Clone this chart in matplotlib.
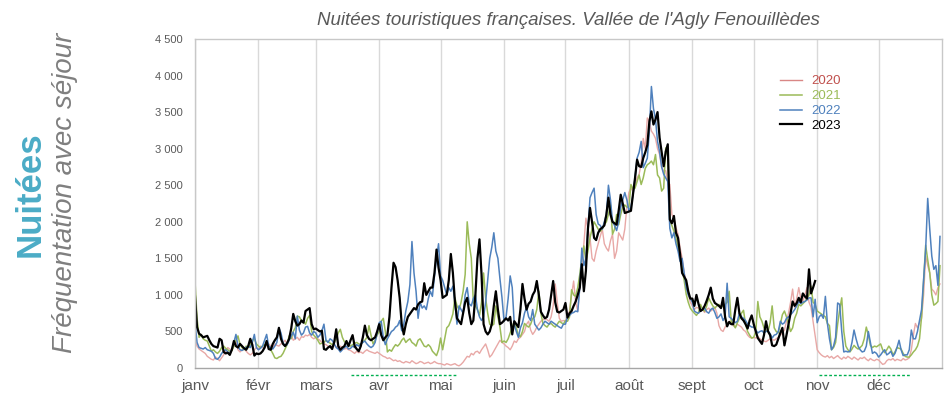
import numpy as np
import matplotlib
matplotlib.use("Agg")
from matplotlib import pyplot as plt
from matplotlib.transforms import blended_transform_factory

plt.rcParams['font.family'] = ['Liberation Sans', 'DejaVu Sans']

# Daily overnight stays, one line per month (janv .. déc)
nuitees_2020 = [
    380, 300, 260, 240, 220, 200, 160, 140, 120, 110, 150, 130, 100, 140, 180, 230, 280, 260, 240, 300, 370, 250, 220, 250, 280, 230, 200, 180, 200, 250, 280,
    260, 300, 280, 270, 320, 330, 300, 280, 330, 310, 300, 330, 350, 380, 330, 420, 460, 380, 400, 420, 380, 430, 420, 450, 440, 460, 420, 400,
    420, 400, 380, 350, 330, 320, 300, 280, 300, 320, 290, 280, 300, 280, 260, 270, 250, 240, 220, 200, 230, 210, 220, 200, 230, 250, 230, 220, 210, 200, 220,
    200, 180, 160, 150, 130, 140, 120, 100, 110, 90, 100, 80, 70, 90, 80, 70, 100, 80, 60, 70, 90, 80, 60, 70, 80, 60, 70, 90, 70, 60,
    60, 50, 40, 60, 50, 40, 50, 60, 40, 30, 50, 80, 120, 160, 150, 200, 180, 220, 230, 200, 250, 290, 330, 250, 150, 180, 230, 280, 330, 380, 350,
    330, 300, 280, 250, 300, 370, 350, 400, 420, 460, 500, 600, 640, 520, 460, 500, 560, 600, 640, 660, 680, 660, 640, 700, 850, 1150, 900, 680, 640, 650,
    640, 700, 780, 1000, 1190, 900, 780, 1100, 1370, 1700, 2050, 1900, 1780, 1500, 1460, 1600, 1700, 1800, 1900, 1700, 1640, 1600, 1740, 1830, 1500, 1600, 1850, 1800, 1750, 1900, 2200,
    2400, 2460, 2420, 2500, 2600, 2650, 2800, 3140, 3000, 3420, 3370, 3240, 3200, 3140, 3000, 2920, 2750, 2690, 2700, 2550, 2510, 2100, 2050, 1920, 1830, 1650, 1500, 1300, 1190, 1010, 900,
    850, 800, 830, 820, 780, 800, 760, 800, 820, 780, 800, 830, 750, 580, 520, 500, 560, 600, 640, 620, 580, 560, 600, 580, 560, 520, 500, 450, 420, 410,
    420, 410, 430, 400, 380, 370, 360, 380, 400, 390, 380, 400, 420, 450, 480, 520, 640, 750, 900, 1080, 830, 950, 1100, 950, 910, 1000, 1100, 900, 830, 640, 450,
    250, 210, 180, 160, 150, 170, 140, 160, 130, 150, 170, 140, 120, 150, 130, 160, 140, 120, 150, 130, 110, 140, 130, 150, 120, 100, 130, 110, 100, 120,
    110, 80, 50, 60, 100, 120, 110, 130, 100, 120, 110, 100, 130, 110, 120, 140, 250, 450, 610, 550, 620, 680, 1000, 1530, 1400, 1300, 1080, 1050, 1000, 1100, 1150,
]

nuitees_2021 = [
    1190, 680, 420, 460, 400, 380, 370, 300, 230, 250, 220, 200, 230, 280, 300, 270, 250, 230, 240, 300, 380, 440, 320, 280, 250, 300, 280, 320, 380, 400, 330,
    300, 280, 300, 320, 330, 300, 250, 200, 140, 130, 150, 160, 200, 260, 320, 440, 400, 500, 550, 710, 700, 650, 640, 600, 680, 720, 500, 450,
    420, 380, 330, 340, 350, 380, 360, 340, 320, 350, 400, 480, 530, 420, 360, 340, 320, 300, 320, 340, 350, 330, 320, 360, 380, 420, 580, 450, 330, 380, 450,
    500, 640, 680, 500, 220, 250, 230, 280, 320, 300, 330, 380, 410, 350, 380, 400, 350, 330, 300, 380, 400, 350, 300, 290, 320, 290, 230, 200, 170, 250,
    410, 250, 400, 550, 580, 650, 740, 960, 850, 800, 900, 1050, 1280, 2000, 1700, 1500, 900, 850, 800, 720, 900, 1300, 960, 750, 600, 580, 600, 850, 700, 560, 350,
    370, 350, 400, 480, 560, 640, 550, 450, 430, 500, 610, 580, 560, 600, 680, 700, 800, 1050, 750, 610, 580, 560, 600, 610, 580, 560, 600, 640, 620, 600,
    650, 640, 700, 1070, 1000, 980, 1100, 1280, 1500, 1670, 1450, 1600, 1780, 1900, 2000, 1950, 1900, 1870, 1900, 1960, 2000, 2100, 2230, 1830, 1900, 2100, 1960, 2100, 2200, 2230, 2200,
    2200, 2510, 2450, 2460, 2550, 2640, 2510, 2600, 2730, 2780, 2800, 2830, 2780, 2920, 2640, 2600, 2420, 2460, 3010, 2900, 2010, 1950, 1870, 1780, 1650, 1500, 1370, 1200, 1010, 900, 820,
    780, 750, 720, 760, 870, 800, 780, 850, 960, 900, 850, 820, 850, 870, 830, 850, 870, 900, 1050, 640, 600, 550, 620, 680, 750, 790, 600, 500, 450, 410,
    420, 500, 910, 700, 640, 550, 520, 500, 620, 850, 550, 500, 480, 600, 730, 780, 700, 600, 500, 550, 680, 750, 870, 850, 880, 910, 950, 1000, 1120, 900, 870,
    780, 760, 740, 720, 700, 610, 580, 250, 280, 350, 600, 800, 960, 500, 300, 250, 220, 260, 310, 280, 260, 280, 310, 400, 560, 450, 310, 280, 300, 290,
    310, 330, 250, 210, 250, 300, 260, 180, 220, 280, 270, 260, 200, 160, 150, 150, 180, 220, 250, 300, 400, 700, 1200, 1680, 1480, 1300, 1000, 860, 880, 910, 1400,
]

nuitees_2022 = [
    620, 350, 280, 270, 260, 280, 250, 240, 230, 200, 130, 120, 150, 200, 230, 250, 220, 200, 260, 350, 460, 300, 250, 240, 260, 280, 300, 280, 350, 460, 280,
    250, 270, 300, 380, 460, 300, 280, 260, 300, 350, 550, 480, 350, 300, 320, 380, 440, 490, 400, 710, 520, 450, 480, 560, 570, 480, 450, 500,
    480, 420, 450, 510, 600, 380, 350, 400, 380, 330, 280, 260, 220, 250, 280, 300, 260, 270, 300, 280, 320, 300, 330, 350, 370, 330, 300, 280, 300, 350, 480,
    620, 640, 420, 320, 400, 450, 500, 520, 560, 580, 650, 510, 600, 780, 910, 1140, 1730, 1300, 1050, 680, 900, 820, 850, 800, 950, 1050, 980, 1260, 1500, 1700,
    1260, 1200, 1100, 1000, 1100, 1050, 1120, 900, 600, 850, 800, 750, 1000, 1100, 880, 850, 950, 1000, 800, 700, 650, 700, 900, 1200, 1500, 1650, 1850, 1600, 1500, 1220, 960,
    640, 700, 950, 1260, 1100, 590, 500, 420, 550, 620, 750, 830, 700, 650, 800, 600, 560, 520, 550, 600, 640, 620, 600, 640, 620, 600, 580, 560, 545, 600,
    600, 700, 720, 750, 760, 780, 770, 1100, 1640, 1400, 1500, 1920, 2330, 2400, 2460, 2100, 1970, 1950, 1900, 2000, 2100, 2500, 2300, 2000, 1950, 1880, 2000, 2200, 2300, 2400, 2300,
    2150, 2200, 2370, 2600, 2870, 2950, 3100, 2740, 2800, 2870, 3240, 3850, 3550, 3400, 3100, 2960, 2750, 2650, 2600, 2550, 1910, 1780, 1850, 1700, 1600, 1460, 1500, 1300, 1100, 1000, 950,
    900, 780, 760, 750, 780, 800, 820, 770, 750, 800, 820, 760, 680, 700, 740, 650, 700, 1160, 700, 680, 650, 620, 640, 750, 700, 680, 650, 600, 580, 560,
    560, 520, 480, 500, 510, 480, 500, 510, 470, 410, 450, 460, 500, 640, 600, 620, 680, 700, 730, 760, 800, 850, 910, 880, 900, 910, 930, 960, 960, 700, 940,
    620, 700, 730, 680, 980, 610, 400, 250, 300, 420, 890, 870, 500, 220, 230, 220, 230, 350, 520, 400, 300, 250, 220, 230, 300, 500, 350, 200, 220, 200,
    150, 180, 220, 250, 180, 200, 230, 160, 200, 280, 380, 250, 170, 180, 180, 250, 520, 400, 400, 500, 650, 800, 1200, 1620, 2320, 1900, 1530, 1350, 1400, 1130, 1800,
]

# 2023 stops at the end of October
nuitees_2023 = [
    980, 560, 470, 450, 420, 430, 440, 380, 330, 300, 290, 280, 400, 380, 220, 200, 210, 180, 250, 370, 300, 280, 330, 300, 270, 250, 300, 400, 320, 170, 200,
    190, 200, 230, 280, 370, 260, 250, 330, 380, 420, 550, 400, 330, 300, 340, 400, 540, 740, 640, 580, 600, 650, 620, 780, 800, 820, 600, 530,
    540, 520, 500, 510, 260, 250, 280, 300, 260, 350, 530, 300, 250, 280, 300, 370, 300, 380, 450, 300, 260, 230, 300, 420, 580, 450, 400, 380, 400, 420, 500,
    600, 450, 380, 420, 450, 700, 1100, 1440, 1380, 1200, 960, 600, 460, 600, 700, 740, 780, 820, 800, 870, 900, 910, 1160, 1000, 1050, 1100, 1100, 1300, 1620, 1370,
    1200, 960, 980, 1000, 1200, 1560, 1300, 910, 680, 640, 600, 750, 900, 960, 750, 600, 650, 1000, 1500, 1760, 1280, 600, 500, 460, 500, 600, 850, 1050, 800, 600, 620,
    650, 680, 650, 700, 460, 640, 600, 560, 800, 1150, 950, 800, 880, 910, 1000, 1050, 1190, 1000, 770, 720, 680, 700, 800, 1000, 1190, 900, 770, 760, 780, 800,
    890, 690, 750, 780, 850, 910, 1000, 1100, 1420, 1050, 1330, 1910, 2190, 2000, 1780, 1750, 1850, 1900, 1920, 1950, 2100, 2330, 2100, 2000, 1980, 1960, 2150, 2370, 2250, 2120, 2130,
    2140, 2150, 2370, 2600, 2850, 2760, 2750, 2870, 2950, 3050, 3370, 3510, 3330, 3400, 3500, 3150, 2950, 2760, 2960, 3060, 2030, 1980, 2080, 1850, 1780, 1560, 1300, 1250, 1200, 1050, 950,
    950, 850, 1000, 880, 780, 800, 850, 920, 1000, 1100, 950, 890, 870, 850, 820, 960, 700, 570, 630, 600, 600, 800, 960, 750, 680, 650, 600, 540, 650, 720,
    600, 500, 410, 370, 330, 450, 640, 500, 450, 310, 300, 320, 400, 480, 550, 310, 450, 600, 750, 910, 850, 890, 960, 900, 1020, 980, 950, 1350, 1020, 1100, 1190,
]

months = ['janv', 'févr', 'mars', 'avr', 'mai', 'juin', 'juil', 'août', 'sept', 'oct', 'nov', 'déc']
month_days = [31, 28, 31, 30, 31, 30, 31, 31, 30, 31, 30, 31]

# confinement periods (day of year), drawn under the axis
confinement_debut = [76, 305]
confinement_fin = [128, 350]

series = [
    ('2020', nuitees_2020, '#e8a8a6', 1.0, '#c0504d'),
    ('2021', nuitees_2021, '#9bbb59', 1.1, '#9bbb59'),
    ('2022', nuitees_2022, '#4f81bd', 1.1, '#4f81bd'),
    ('2023', nuitees_2023, '#000000', 1.6, '#000000'),
]

month_start = np.concatenate([[0], np.cumsum(month_days)[:-1]])

fig = plt.figure(figsize=(9.48, 4.04), dpi=100)
ax = fig.add_axes([0.2057, 0.089, 0.7880, 0.8145])

for label, vals, col, lw, _ in series:
    ax.plot(np.arange(len(vals)), vals, color=col, lw=lw, label=label)

ax.set_xlim(0, 365)
ax.set_ylim(0, 4500)
ax.set_yticks(np.arange(0, 4501, 500))
ax.set_yticklabels([f'{v:,}'.replace(',', ' ') for v in range(0, 4501, 500)])
ax.set_xticks(month_start)
ax.set_xticklabels(months)
ax.tick_params(axis='y', length=0, pad=9, labelsize=8, labelcolor='#595959')
ax.tick_params(axis='x', length=0, pad=8, labelsize=11, labelcolor='#595959')
ax.grid(axis='x', color='#d9d9d9', lw=1)
ax.set_axisbelow(True)
for s in ax.spines.values():
    s.set_color('#c8c8c8')
    s.set_linewidth(1)
ax.spines['bottom'].set_color('#a6a6a6')

trans = blended_transform_factory(ax.transData, ax.transAxes)
for d0, d1 in zip(confinement_debut, confinement_fin):
    ax.plot([d0, d1], [-0.022, -0.022], transform=trans, clip_on=False,
            color='#00b050', lw=1, linestyle=(0, (2, 1.5)))

leg = ax.legend(loc='upper left', bbox_to_anchor=(0.783, 0.89), frameon=False,
                fontsize=9.5, handlelength=1.7, handletextpad=0.65,
                labelspacing=0.2, borderpad=0, borderaxespad=0)
for txt, (_, _, _, _, tcol) in zip(leg.get_texts(), series):
    txt.set_color(tcol)
leg.get_lines()[0].set_color('#d98785')

ax.set_title("Nuitées touristiques françaises. Vallée de l'Agly Fenouillèdes",
             fontsize=13.5, style='italic', color='#595959', pad=10)

fig.text(0.032, 0.52, 'Nuitées', rotation=90, ha='center', va='center',
         fontsize=25, fontweight='bold', color='#4bacc6')
fig.text(0.069, 0.522, 'Fréquentation avec séjour', rotation=90, ha='center',
         va='center', fontsize=20, style='italic', color='#7f7f7f')

fig.savefig('out.png', dpi=100)
